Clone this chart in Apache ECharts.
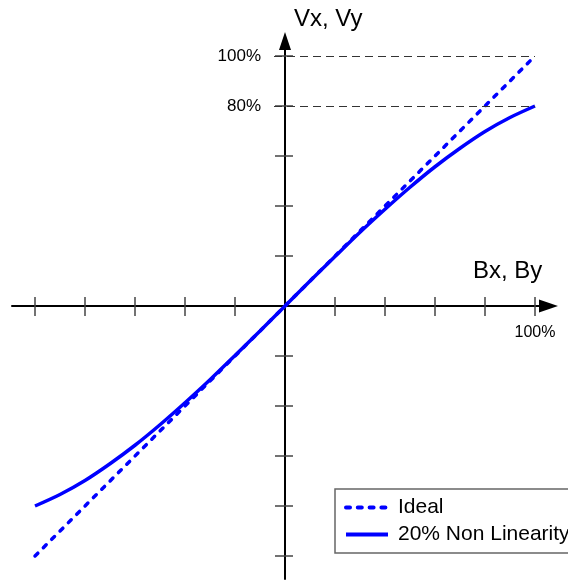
<!DOCTYPE html>
<html>
<head>
<meta charset="utf-8">
<script src="https://cdn.jsdelivr.net/npm/echarts@6/dist/echarts.min.js"></script>
<style>html,body{margin:0;padding:0;background:#fff;}#c{width:568px;height:581px;}</style>
</head>
<body>
<div id="c"></div>
<script>
// Data (percent of full scale)
const bValues = [-100,-90,-80,-70,-60,-50,-40,-30,-20,-10,0,10,20,30,40,50,60,70,80,90,100];
const nonLinear = [-80,-75.4,-69.8,-63.1,-55.7,-47.5,-38.7,-29.5,-19.8,-10,0,10,19.8,29.5,38.7,47.5,55.7,63.1,69.8,75.4,80];
const idealB = [-100, 100];
const idealV = [-100, 100];
const tickValues = [-100,-80,-60,-40,-20,20,40,60,80,100];
const xLabelValues = [100];
const yLabelValues = [100, 80];
const refLevels = [100, 80];
const seriesNames = ['Ideal', '20% Non Linearity'];
const xName = 'Bx, By';
const yName = 'Vx, Vy';

const FONT = 'Liberation Sans, Arial, sans-serif';
const BLUE = '#0000ff';

const chart = echarts.init(document.getElementById('c'), null, {renderer: 'canvas'});

// Layout: grid box and axis extents (axes cross at the zero point)
const G = {left: 12, right: 19.5, top: 41, bottom: 2};
const W = 568, H = 581;
const xMin = -109.2, xMax = 105.4, yMin = -109.2, yMax = 106;
const gw = W - G.left - G.right, gh = H - G.top - G.bottom;
const zeroX = G.left + (0 - xMin) / (xMax - xMin) * gw;
const zeroY = G.top + (yMax - 0) / (yMax - yMin) * gh;
const offBottom = -(H - G.bottom - zeroY);
const offTop = -(zeroY - G.top);
const offLeft = -(zeroX - G.left);
const offRight = -(W - G.right - zeroX);

const baseAxis = {
  type: 'value', splitLine: {show: false}, axisLabel: {show: false}
};

chart.setOption({
  animation: false,
  backgroundColor: '#fff',
  grid: Object.assign({containLabel: false, outerBoundsMode: 'none'}, G),
  xAxis: [
    Object.assign({}, baseAxis, {
      position: 'bottom', offset: offBottom, min: xMin, max: xMax,
      axisLine: {show: true, onZero: false, symbol: ['none', 'triangle'], symbolSize: [13, 19],
        lineStyle: {color: '#000', width: 2}},
      axisTick: {show: true, customValues: tickValues, length: 10, lineStyle: {color: '#444', width: 1.5}},
      axisLabel: {show: true, customValues: xLabelValues, formatter: '{value}%', margin: 19,
        color: '#000', fontSize: 16, fontFamily: FONT}
    }),
    Object.assign({}, baseAxis, {
      position: 'top', offset: offTop, min: xMin, max: xMax,
      axisLine: {show: false, onZero: false},
      axisTick: {show: true, customValues: tickValues, length: 9, lineStyle: {color: '#444', width: 1.5}}
    })
  ],
  yAxis: [
    Object.assign({}, baseAxis, {
      position: 'left', offset: offLeft, min: yMin, max: yMax,
      axisLine: {show: true, onZero: false, symbol: ['none', 'triangle'], symbolSize: [12, 18],
        lineStyle: {color: '#000', width: 2}},
      axisTick: {show: true, customValues: tickValues, length: 10, lineStyle: {color: '#444', width: 1.5}},
      axisLabel: {show: true, customValues: yLabelValues, formatter: '{value}%', margin: 24,
        color: '#000', fontSize: 17, fontFamily: FONT}
    }),
    Object.assign({}, baseAxis, {
      position: 'right', offset: offRight, min: yMin, max: yMax,
      axisLine: {show: false, onZero: false},
      axisTick: {show: true, customValues: tickValues, length: 8, lineStyle: {color: '#444', width: 1.5}}
    })
  ],
  legend: {
    orient: 'vertical', left: 335, top: 489,
    padding: [8, 10, 8, 9], itemGap: 6, itemWidth: 42, itemHeight: 14,
    backgroundColor: '#fff', borderColor: '#666', borderWidth: 1.5,
    itemStyle: {opacity: 0},
    lineStyle: {width: 4},
    textStyle: {fontSize: 21, color: '#000', fontFamily: FONT, padding: [0, 0, 0, 5]},
    data: seriesNames
  },
  graphic: [
    {type: 'text', x: 473, y: 271, style: {text: xName, font: '24px ' + FONT, fill: '#000', textAlign: 'left', textVerticalAlign: 'middle'}},
    {type: 'text', x: 294, y: 19, style: {text: yName, font: '24px ' + FONT, fill: '#000', textAlign: 'left', textVerticalAlign: 'middle'}}
  ],
  series: [
    {
      name: seriesNames[1], type: 'line', xAxisIndex: 0, yAxisIndex: 0,
      data: bValues.map((b, i) => [b, nonLinear[i]]),
      symbol: 'none', smooth: 0.3,
      lineStyle: {color: BLUE, width: 3.5}, itemStyle: {color: BLUE},
      z: 3
    },
    {
      name: seriesNames[0], type: 'line', xAxisIndex: 0, yAxisIndex: 0,
      data: idealB.map((b, i) => [b, idealV[i]]),
      symbol: 'none',
      lineStyle: {color: BLUE, width: 3.5, type: [4, 7.8], cap: 'round'}, itemStyle: {color: BLUE},
      z: 3,
      markLine: {
        silent: true, symbol: ['none', 'none'], label: {show: false},
        lineStyle: {color: '#333', width: 1, type: [8, 5]},
        data: refLevels.map(v => [{coord: [-4.4, v]}, {coord: [100, v]}])
      }
    }
  ]
});
</script>
</body>
</html>
